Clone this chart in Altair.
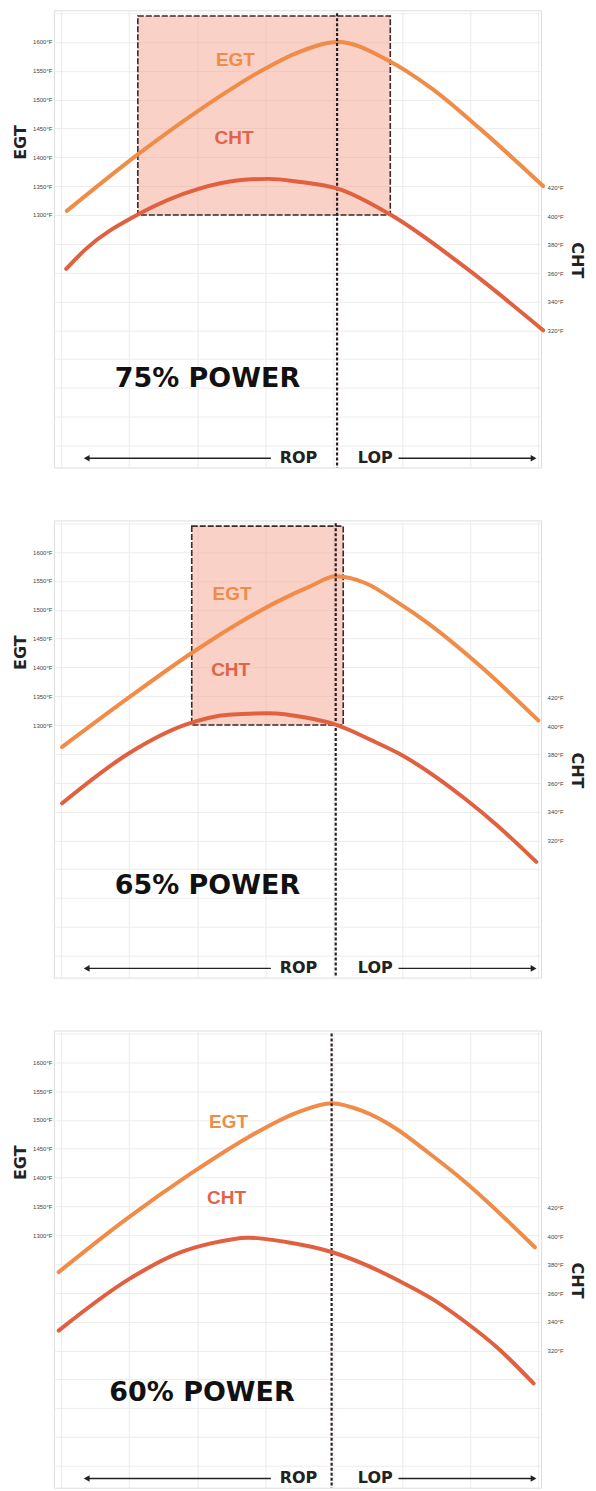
import altair as alt
import pandas as pd

# ---------------- data ----------------
PANELS = ["75% POWER", "65% POWER", "60% POWER"]

P1_EGT_X = [0.09, 1.13, 2.02, 3.00, 3.48, 4.07, 4.80, 5.43, 6.16, 7.07]
P1_EGT_Y = [1307, 1405, 1481, 1554, 1582, 1600, 1568, 1520, 1448, 1350]
P1_CHT_X = [0.08, 0.37, 1.13, 2.02, 2.61, 3.04, 3.48, 4.07, 4.83, 5.93, 7.07]
P1_CHT_Y = [363, 377, 401, 419, 425, 426, 424, 419, 401, 364, 320]

P2_EGT_X = [0.02, 1.00, 1.92, 2.71, 3.19, 3.68, 4.03, 4.47, 4.91, 5.39, 6.19, 7.00]
P2_EGT_Y = [1262, 1348, 1425, 1484, 1515, 1542, 1558, 1546, 1515, 1476, 1398, 1308]
P2_CHT_X = [0.02, 1.00, 1.83, 2.46, 3.05, 3.59, 4.03, 4.56, 4.95, 5.93, 6.41, 6.97]
P2_CHT_Y = [346, 381, 401, 408, 409, 406, 401, 390, 381, 349, 330, 305]

P3_EGT_X = [-0.03, 0.95, 1.92, 2.75, 3.49, 3.97, 4.41, 4.90, 5.39, 5.93, 6.95]
P3_EGT_Y = [1236, 1327, 1408, 1470, 1514, 1529, 1516, 1486, 1443, 1392, 1279]
P3_CHT_X = [-0.03, 1.00, 1.77, 2.20, 2.75, 3.30, 3.97, 4.47, 4.95, 5.45, 5.93, 6.40, 6.93]
P3_CHT_Y = [334, 370, 389, 395, 399, 396, 389, 380, 369, 356, 340, 322, 297]

# shaded "red box" (x0, x1, egt0, egt1); None for last panel
BOXES = [(1.13, 4.83, 1300, 1645), (1.92, 4.14, 1300, 1645), None]
# peak-EGT dashed line position
PEAK_X = [4.05, 4.03, 3.97]
PEAK_Y = [1650, 862]
# in-chart labels
EGT_LABEL = [(2.56, 1569), (2.51, 1527), (2.46, 1496)]
CHT_LABEL = [(2.54, 1434), (2.49, 1395), (2.43, 1365)]
POWER_POS = [(2.15, 1015), (2.15, 1021), (2.07, 1026)]
# ROP / LOP arrows
ARROW_Y = 878
ROP_X, LOP_X = 3.485, 4.61
LEFT_ARROW = (0.38, 3.08)
RIGHT_ARROW = (4.95, 6.93)

EGT_GRID = list(range(900, 1651, 50))
CHT_TICKS = [320, 340, 360, 380, 400, 420]
X_GRID = [0, 1, 2, 3, 4, 5, 6, 7]

EGT_DOMAIN = [862, 1655]
CHT_DOMAIN = [224, 544]
X_DOMAIN = [-0.1, 7.04]

CURVES = [
    (P1_EGT_X, P1_EGT_Y, P1_CHT_X, P1_CHT_Y),
    (P2_EGT_X, P2_EGT_Y, P2_CHT_X, P2_CHT_Y),
    (P3_EGT_X, P3_EGT_Y, P3_CHT_X, P3_CHT_Y),
]

EGT_COLOR = "#f08c48"
CHT_COLOR = "#e0603f"
W, H = 488, 458

x_axis = alt.Axis(values=X_GRID, labels=False, ticks=False, domain=False,
                  title=None, grid=True, gridColor="#ececec", gridWidth=1)
egt_axis = alt.Axis(values=EGT_GRID, orient="left", ticks=False, domain=False,
                    grid=True, gridColor="#ececec", gridWidth=1,
                    labelExpr="datum.value >= 1300 && datum.value <= 1600 ? format(datum.value, 'd') + '°F' : ''",
                    labelFontSize=6, labelColor="#444", labelPadding=2,
                    title="EGT", titleFontSize=16, titleFontWeight="bold",
                    titleColor="#222", titlePadding=4, titleFont="DejaVu Sans",
                    titleY=132)
cht_axis = alt.Axis(values=CHT_TICKS, orient="right", ticks=False, domain=False,
                    grid=False, labelExpr="format(datum.value, 'd') + '°F'",
                    labelFontSize=6, labelColor="#444", labelPadding=6,
                    title="CHT", titleFontSize=16, titleFontWeight="bold",
                    titleColor="#222", titlePadding=5, titleFont="DejaVu Sans",
                    titleY=250)


def X(field="x"):
    return alt.X(f"{field}:Q", scale=alt.Scale(domain=X_DOMAIN, nice=False, zero=False), axis=x_axis)


def X2(field="x2"):
    return alt.X2(f"{field}:Q")


def Y(field="y"):
    return alt.Y(f"{field}:Q", scale=alt.Scale(domain=EGT_DOMAIN, nice=False, zero=False), axis=egt_axis)


def panel(i):
    ex, ey, cx, cy = CURVES[i]
    egt_df = pd.DataFrame({"x": ex, "y": ey})
    cht_df = pd.DataFrame({"x": cx, "y": cy})

    layers = []
    if BOXES[i] is not None:
        x0, x1, y0, y1 = BOXES[i]
        box_df = pd.DataFrame({"x": [x0], "x2": [x1], "y": [y0], "y2": [y1]})
        layers.append(alt.Chart(box_df).mark_rect(
            fill="#f3a48e", fillOpacity=0.5, stroke="#3a2a2a",
            strokeDash=[6, 2], strokeWidth=1.6
        ).encode(x=X(), x2=X2(), y=Y(), y2=alt.Y2("y2:Q")))

    layers.append(alt.Chart(egt_df).mark_line(
        color=EGT_COLOR, strokeWidth=4, interpolate="monotone", strokeCap="round"
    ).encode(x=X(), y=Y()))

    peak_df = pd.DataFrame({"x": [PEAK_X[i]], "y": [PEAK_Y[0]], "y2": [PEAK_Y[1]]})
    layers.append(alt.Chart(peak_df).mark_rule(
        color="#2a1f24", strokeWidth=2.2, strokeDash=[3, 2]
    ).encode(x=X(), y=Y(), y2=alt.Y2("y2:Q")))

    lab_df = pd.DataFrame({
        "x": [EGT_LABEL[i][0], CHT_LABEL[i][0]],
        "y": [EGT_LABEL[i][1], CHT_LABEL[i][1]],
        "t": ["EGT", "CHT"],
        "c": [EGT_COLOR, "#e0644a"],
    })
    layers.append(alt.Chart(lab_df).mark_text(
        font="Liberation Sans", fontWeight="bold", fontSize=19
    ).encode(x=X(), y=Y(), text="t:N", color=alt.Color("c:N", scale=None)))

    pw_df = pd.DataFrame({"x": [POWER_POS[i][0]], "y": [POWER_POS[i][1]], "t": [PANELS[i]]})
    layers.append(alt.Chart(pw_df).mark_text(
        font="DejaVu Sans", fontWeight="bold", fontSize=27, color="#111"
    ).encode(x=X(), y=Y(), text="t:N"))

    arr_df = pd.DataFrame({
        "x": [LEFT_ARROW[0], RIGHT_ARROW[0]],
        "x2": [LEFT_ARROW[1], RIGHT_ARROW[1]],
        "y": [ARROW_Y, ARROW_Y],
    })
    layers.append(alt.Chart(arr_df).mark_rule(color="#222", strokeWidth=1.3)
                  .encode(x=X(), x2=X2(), y=Y()))
    head_df = pd.DataFrame({
        "x": [LEFT_ARROW[0], RIGHT_ARROW[1]],
        "y": [ARROW_Y, ARROW_Y],
        "s": ["triangle-left", "triangle-right"],
    })
    layers.append(alt.Chart(head_df).mark_point(
        filled=True, color="#222", size=45, opacity=1
    ).encode(x=X(), y=Y(), shape=alt.Shape("s:N", scale=None)))
    rl_df = pd.DataFrame({"x": [ROP_X, LOP_X], "y": [ARROW_Y, ARROW_Y], "t": ["ROP", "LOP"]})
    layers.append(alt.Chart(rl_df).mark_text(
        font="DejaVu Sans", fontWeight="bold", fontSize=16, color="#222"
    ).encode(x=X(), y=Y(), text="t:N"))

    egt_layer = alt.layer(*layers)

    cht_line = alt.Chart(cht_df).mark_line(
        color=CHT_COLOR, strokeWidth=4, interpolate="monotone", strokeCap="round"
    ).encode(
        x=X(),
        y=alt.Y("y:Q", scale=alt.Scale(domain=CHT_DOMAIN, nice=False, zero=False), axis=cht_axis),
    )

    return alt.layer(egt_layer, cht_line).resolve_scale(y="independent").properties(width=W, height=H)


chart = alt.vconcat(panel(0), panel(1), panel(2), spacing=50).properties(
    padding={"left": 4, "top": 0, "right": 3, "bottom": 0}
).configure_view(stroke=None).configure(background="white")

chart.save("out.html", embed_options={"renderer": "svg", "actions": False})
